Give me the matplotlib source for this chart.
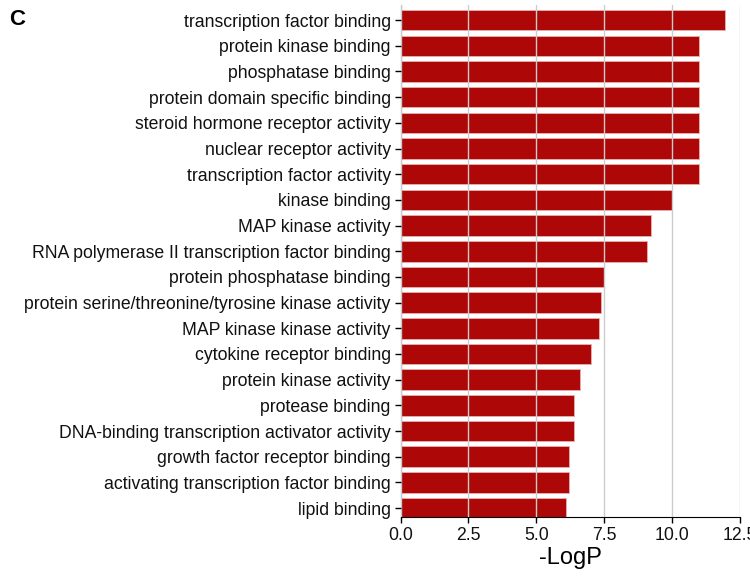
import matplotlib.pyplot as plt
import numpy as np

plt.rcParams['font.family'] = ['Liberation Sans', 'DejaVu Sans']

# GO terms, top to bottom
terms = [
    'transcription factor binding',
    'protein kinase binding',
    'phosphatase binding',
    'protein domain specific binding',
    'steroid hormone receptor activity',
    'nuclear receptor activity',
    'transcription factor activity',
    'kinase binding',
    'MAP kinase activity',
    'RNA polymerase II transcription factor binding',
    'protein phosphatase binding',
    'protein serine/threonine/tyrosine kinase activity',
    'MAP kinase kinase activity',
    'cytokine receptor binding',
    'protein kinase activity',
    'protease binding',
    'DNA-binding transcription activator activity',
    'growth factor receptor binding',
    'activating transcription factor binding',
    'lipid binding',
]
logp = [11.95, 10.97, 10.97, 10.97, 10.97, 10.97, 10.97, 9.98, 9.2, 9.08,
        7.47, 7.38, 7.29, 7.0, 6.6, 6.38, 6.38, 6.2, 6.2, 6.09]
xticks = [0, 2.5, 5, 7.5, 10, 12.5]

fig = plt.figure(figsize=(7.5, 5.79), dpi=100)
ax = fig.add_axes([0.534, 0.107, 0.453, 0.884])

ypos = np.arange(len(terms))
ax.barh(ypos, logp, height=0.8, color='#ad0707', edgecolor='#e8b0b0',
        linewidth=0.6, zorder=1)

ax.set_yticks(ypos)
ax.set_yticklabels(terms, fontsize=12.7, color='#111111')
ax.set_ylim(19.35, -0.58)
ax.set_xlim(0, 12.5)
ax.set_xticks(xticks)
ax.set_xticklabels(['0.0', '2.5', '5.0', '7.5', '10.0', '12.5'], fontsize=12.7,
                   color='#111111')
ax.set_xlabel('-LogP', fontsize=17, labelpad=2)

ax.grid(axis='x', color='#cccccc', linewidth=1, zorder=2)
ax.set_axisbelow(False)
for s in ['top', 'right']:
    ax.spines[s].set_visible(False)
ax.tick_params(length=4, width=1, pad=3)

fig.text(0.012, 0.985, 'C', fontsize=16, fontweight='bold', va='top')

fig.savefig('out.png', dpi=100)
